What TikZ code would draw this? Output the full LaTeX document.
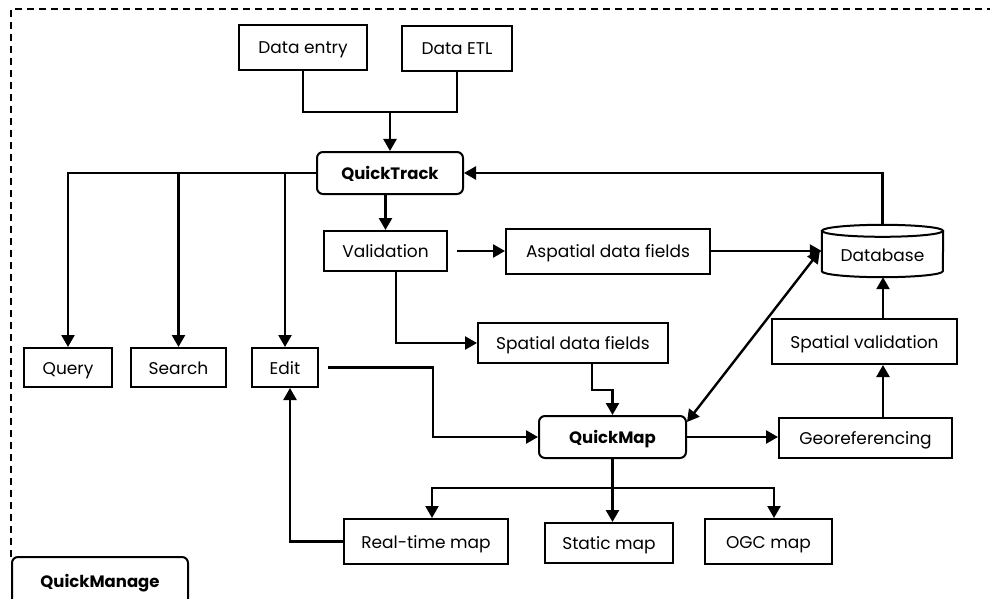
\documentclass[tikz,border=0pt]{standalone}
\usepackage{fontspec}
\setmainfont{Poppins}
\usetikzlibrary{arrows.meta,calc}
\begin{document}
\begin{tikzpicture}[x=1pt,y=1pt,
  box/.style={draw=black, line width=2pt, rectangle, inner sep=0pt, text height=13pt, text depth=0pt, font=\fontsize{17}{19}\selectfont},
  rbox/.style={box, rounded corners=6pt, font=\fontsize{16.5}{19}\selectfont\bfseries},
  conn/.style={line width=2.4pt},
  arr/.style={conn, -{Triangle[width=13pt,length=12pt]}},
  arrb/.style={conn, {Triangle[width=13pt,length=12pt]}-{Triangle[width=13pt,length=12pt]}},
  frame/.style={line width=1.7pt, dash pattern=on 7pt off 5pt}
]
\useasboundingbox (0,0) rectangle (990,-599);
\fill[white] (0,0) rectangle (990,-599);

% nodes
\node[box, minimum width=128, minimum height=45] (dentry) at (303,-47.5) {Data entry};
\node[box, minimum width=110, minimum height=45] (detl) at (457,-48.5) {Data ETL};
\node[rbox, minimum width=146, minimum height=42] (qtrack) at (390,-173) {QuickTrack};
\node[box, minimum width=88, minimum height=39] (query) at (68,-367.5) {Query};
\node[box, minimum width=95, minimum height=39] (search) at (178.5,-367.5) {Search};
\node[box, minimum width=66, minimum height=39] (edit) at (285,-367.5) {Edit};
\node[box, minimum width=123, minimum height=40] (valid) at (385.5,-251) {Validation};
\node[box, minimum width=204, minimum height=45] (aspatial) at (608,-251) {Aspatial data fields};
\node[box, minimum width=190, minimum height=40] (spatial) at (573,-343) {Spatial data fields};
\node[inner sep=0pt, minimum width=121, minimum height=52] (db) at (882.5,-251) {};
\node[box, minimum width=185, minimum height=45] (spval) at (864.5,-341.5) {Spatial validation};
\node[rbox, minimum width=147, minimum height=42] (qmap) at (612.5,-437) {QuickMap};
\node[box, minimum width=173, minimum height=40] (georef) at (865.5,-438) {Georeferencing};
\node[box, minimum width=164, minimum height=45] (rtmap) at (426,-541.5) {Real-time map};
\node[box, minimum width=128, minimum height=40] (static) at (609,-543) {Static map};
\node[box, minimum width=127, minimum height=45] (ogc) at (768.5,-541.5) {OGC map};
\node[rbox, minimum width=176, minimum height=48] (qmanage) at (100,-581) {QuickManage};

% database cylinder outline
\coordinate (dbtl) at ($(db.north west)+(0,-6)$);
\coordinate (dbtr) at ($(db.north east)+(0,-6)$);
\coordinate (dbbl) at ($(db.south west)+(0,6)$);
\draw[line width=2pt] (dbtl) -- (dbbl) arc (180:360:60.5 and 6) -- (dbtr);
\draw[line width=2pt] ($(dbtl)!0.5!(dbtr)$) ellipse (60.5 and 6);
\node[inner sep=0pt, text height=13pt, text depth=0pt, font=\fontsize{17}{19}\selectfont] (dblabel) at (882.5,-255) {Database};

% frame
\draw[frame] (11,-557) -- (11,-9) -- (995,-9);

% connectors
\coordinate (j1) at (390,-112);
\draw[conn] (dentry.south) |- (j1) -| (detl.south);
\draw[arr] (j1) -- (qtrack.north);

\draw[arr] (qtrack.west) -| (query.north);
\draw[arr] (search.north |- qtrack.west) -- (search.north);
\draw[arr] (edit.north |- qtrack.west) -- (edit.north);

\draw[arr] (valid.north |- qtrack.south) -- (valid.north);
\draw[arr] ([xshift=9pt]valid.east) -- (aspatial.west);
\draw[arr] (aspatial.east) -- (db.west);
\draw[arr] ([xshift=10.5pt]valid.south) |- (spatial.west);
\draw[arr] ([xshift=19pt]spatial.south) -- ++(0,-26) -| (qmap.north);

\coordinate (e1) at (433,-437);
\draw[arr] ([xshift=9pt]edit.east) -| (e1) -- (qmap.west);
\draw[arr] (rtmap.west) -| ([xshift=5pt]edit.south);

\coordinate (b) at (612.5,-488);
\draw[conn] (qmap.south) -- (b);
\draw[arr] (b) -| ([xshift=6pt]rtmap.north);
\draw[arr] (b) -| ([xshift=5.5pt]ogc.north);
\draw[arr] (b) -- (b |- static.north);

\draw[arr] (qmap.east) -- (qmap.east -| georef.west);
\draw[arr] ([xshift=17.5pt]georef.north) -- ([xshift=18.5pt]spval.south);
\draw[arr] ([xshift=18.5pt]spval.north) -- ([xshift=0.5pt]db.south);
\draw[arr] (db.north) |- (qtrack.east);
\draw[arrb] ([yshift=-7pt]qmap.north east) -- ([xshift=-2pt]db.west);
\end{tikzpicture}
\end{document}
